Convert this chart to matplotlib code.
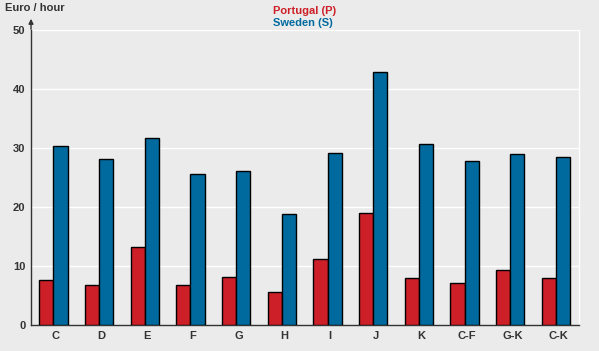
import matplotlib
matplotlib.use("Agg")
import matplotlib.pyplot as plt
import numpy as np

categories = ["C", "D", "E", "F", "G", "H", "I", "J", "K", "C-F", "G-K", "C-K"]
portugal = [7.6, 6.8, 13.2, 6.8, 8.1, 5.6, 11.2, 19.0, 8.0, 7.1, 9.3, 8.0]
sweden = [30.3, 28.1, 31.7, 25.6, 26.1, 18.8, 29.2, 42.9, 30.7, 27.8, 29.0, 28.5]
yticks = [0, 10, 20, 30, 40, 50]

bg = "#EBEBEB"
red = "#CC1F27"
blue = "#006A9E"
dark = "#333333"

plt.rcParams['font.family'] = ['Liberation Sans', 'DejaVu Sans']

fig = plt.figure(figsize=(5.99, 3.51), dpi=100, facecolor=bg)
ax = fig.add_axes([31/599, 26/351, (579.3-31)/599, 295/351])
ax.set_facecolor(bg)

x = np.arange(len(categories))
w = 0.31
ax.bar(x - w/2, portugal, width=w, color=red, edgecolor="black", linewidth=1.0, zorder=3)
ax.bar(x + w/2, sweden, width=w, color=blue, edgecolor="black", linewidth=1.0, zorder=3)

ax.set_xlim(-0.49, 11.51)
ax.set_ylim(0, 50)
ax.set_yticks(yticks)
ax.set_yticklabels([str(t) for t in yticks], fontsize=8, fontweight="bold", color=dark)
ax.set_xticks(x + 0.05)
ax.set_xticklabels(categories, fontsize=8, fontweight="bold", color=dark)
ax.tick_params(axis="both", length=0, pad=4)

for t in yticks[1:]:
    ax.axhline(t, color="white", linewidth=1.0, zorder=1)

for s in ["top", "right"]:
    ax.spines[s].set_visible(False)
ax.axvline(11.51, color="white", linewidth=1.0, zorder=1, clip_on=False)
ax.spines["left"].set_color(dark)
ax.spines["bottom"].set_color(dark)
ax.spines["left"].set_linewidth(1.0)
ax.spines["bottom"].set_linewidth(1.0)

# y-axis arrow
ax.annotate("", xy=(31/599, 1-16/351), xycoords="figure fraction",
            xytext=(31/599, 1-32/351), textcoords="figure fraction",
            arrowprops=dict(arrowstyle="-|>", color=dark, lw=1.0, mutation_scale=7))

fig.text(5/599, 1-8/351, "Euro / hour", fontsize=8, fontweight="bold", color=dark, va="center", ha="left")
fig.text(273/599, 1-11/351, "Portugal (P)", fontsize=8, fontweight="bold", color=red, va="center", ha="left")
fig.text(273/599, 1-23/351, "Sweden (S)", fontsize=8, fontweight="bold", color=blue, va="center", ha="left")

fig.savefig("out.png", dpi=100, facecolor=bg)
